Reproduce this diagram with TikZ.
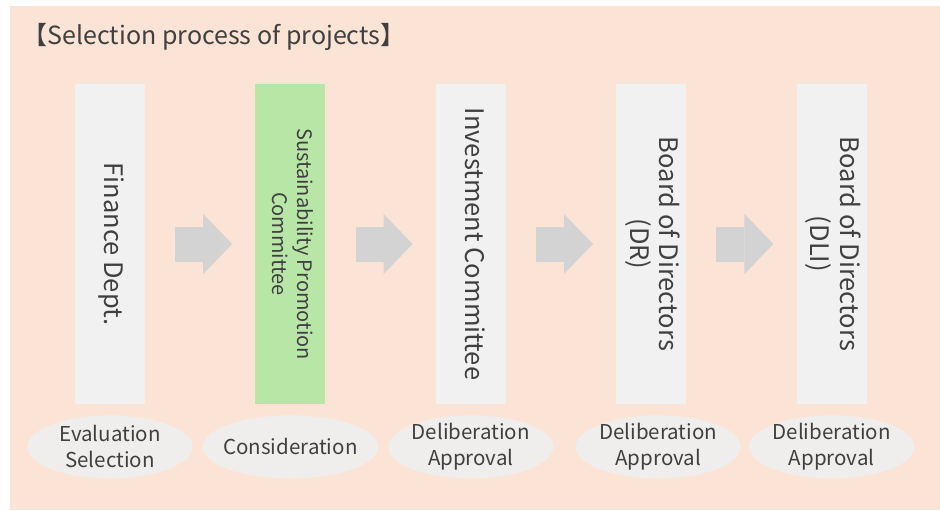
\documentclass[tikz,border=0pt]{standalone}
\usepackage{fontspec}
\setmainfont{Noto Sans CJK JP}
\usetikzlibrary{positioning, shapes.geometric, arrows.meta}
\definecolor{peach}{RGB}{251,228,214}
\definecolor{colgray}{RGB}{241,241,241}
\definecolor{sgreen}{RGB}{183,230,166}
\definecolor{arrowgray}{RGB}{211,211,211}
\definecolor{ovalgray}{RGB}{240,238,236}
\definecolor{textgray}{RGB}{64,64,64}
\newcommand{\vtext}[1]{\rotatebox{-90}{\begin{tabular}{@{}c@{}}#1\end{tabular}}}
\tikzset{
	column/.style={fill=colgray, minimum width=70pt, minimum height=320pt, inner sep=0pt, text=textgray, font=\fontsize{25.5}{28}\selectfont}, % the tall boxes
	oval/.style={ellipse, fill=ovalgray, minimum width=165pt, minimum height=63pt, inner sep=-5pt, align=center, text=textgray, font=\fontsize{20.5}{26}\selectfont}, % the step labels
	flow/.style={draw=arrowgray, line width=35pt, -{Triangle[length=29pt, width=60pt, line width=0pt]}, shorten <=30pt, shorten >=23pt}, % the block arrows
}
\begin{document}
\begin{tikzpicture}[x=1pt, y=-1pt]
	\useasboundingbox (0,0) rectangle (940,511);
	\fill[peach] (10,6) rectangle (940,510);
	\node[anchor=west, inner sep=0pt, text=textgray, font=\fontsize{25}{27}\selectfont] (title) at (22.5,37) {【Selection process of projects】};
	% boxes
	\node[column] (fin) at (110,244) {\vtext{Finance Dept.}};
	\node[column, fill=sgreen, right=110pt of fin, font=\fontsize{20}{25}\selectfont] (spc) {\vtext{Sustainability Promotion\\Committee}};
	\node[column, right=110pt of spc] (inv) {\vtext{Investment Committee}};
	\node[column, right=110pt of inv] (bdr) {\vtext{Board of Directors\\(DR)}};
	\node[column, right=110pt of bdr] (bdli) {\vtext{Board of Directors\\(DLI)}};
	% steps
	\node[oval, below=11pt of fin] (evs) {Evaluation\\Selection};
	\node[oval, below=11pt of spc] (con) {Consideration};
	\node[oval, below=11pt of inv] (da1) {Deliberation\\Approval};
	\node[oval, below=11pt of bdr, xshift=7pt] (da2) {Deliberation\\Approval};
	\node[oval, below=11pt of bdli] (da3) {Deliberation\\Approval};
	% arrows
	\draw[flow] (fin) -- (spc);
	\draw[flow] (spc) -- (inv);
	\draw[flow] (inv) -- (bdr);
	\draw[flow] (bdr) -- (bdli);
\end{tikzpicture}
\end{document}
